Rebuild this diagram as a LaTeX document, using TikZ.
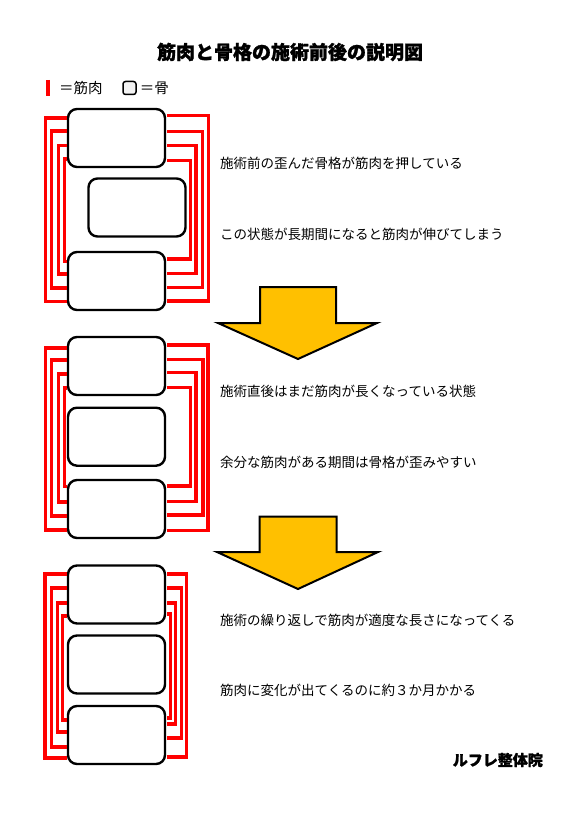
\documentclass[tikz,border=0pt]{standalone}
\usepackage{fontspec}
\newfontfamily\jp{Noto Sans CJK JP}[BoldFeatures={FakeBold=1.3}]
\usetikzlibrary{calc,positioning}
\definecolor{arrowyellow}{HTML}{FFC000}
\definecolor{legendgrey}{HTML}{F2F2F2}
\tikzset{
    bone/.style={draw,rectangle,rounded corners=9pt,line width=2.4pt,fill=white,
        minimum width=97pt,minimum height=58pt,inner sep=0pt},
    muscle/.style={red,line width=3.3pt,shorten >=1.2pt,shorten <=1.2pt},
    note/.style={anchor=west,inner sep=0pt,font=\jp\fontsize{13.5}{16}\selectfont},
    downarrow/.style={draw,line width=2pt,fill=arrowyellow,line join=miter}
}

\begin{document}
\begin{tikzpicture}[x=1pt,y=-1pt]
        \useasboundingbox (0,0) rectangle (579,818);
        % title and legend
        \node (title) at (290,52) {\jp\bfseries\fontsize{19}{22}\selectfont 筋肉と骨格の施術前後の説明図};
        \draw[red,line width=3.3pt] (48,80) -- (48,96);
        \node[note,font=\jp\fontsize{14.5}{17}\selectfont] (key_muscle) at (59,88) {＝筋肉};
        \node[draw,rounded corners=2.5pt,line width=1.5pt,fill=legendgrey,
            minimum size=13pt,inner sep=0pt] (key_box) at (129.5,88) {};
        \node[note,font=\jp\fontsize{14.5}{17}\selectfont] (key_bone) [right=3pt of key_box.east,anchor=west] {＝骨};

        % before treatment
        \node[bone] (a1) at (116.5,138)   {};
        \node[bone] (a2) at (137,207.5)   {};
        \node[bone] (a3) at (116.5,281)   {};
        \foreach \lx/\lt/\lb/\rx/\rt/\rb in {45.7/118/301.5/208.3/115.7/301,
                51.7/131/288/202.3/131.7/287.7, 58.3/145.7/274/196/145.7/273.3,
                64.3/159/261.7/190.3/160.7/259}
            \draw[muscle] (a1.west |- 0,\lt) -| (\lx,\lb) -- (a3.west |- 0,\lb)
                          (a1.east |- 0,\rt) -| (\rx,\rb) -- (a3.east |- 0,\rb);
        \node[note] (n1) at (220,163) {施術前の歪んだ骨格が筋肉を押している};
        \node[note] (n2) at (220,234) {この状態が長期間になると筋肉が伸びてしまう};

        \draw[downarrow] (260,287) -- (336,287) -- (336,323) -- (377,323)
            -- (298,359) -- (218,323) -- (260,323) -- cycle;

        % right after treatment
        \node[bone] (b1) at (116.5,366)   {};
        \node[bone] (b2) at (116.5,436.7) {};
        \node[bone] (b3) at (116.5,509)   {};
        \foreach \lx/\lt/\lb/\rx/\rt/\rb in {45.7/348/530/208/345/530.7,
                51.7/360/516/203/359.3/515, 58.3/374/502/196/372.7/501.7,
                64.3/388/486.7/190.7/387.3/486}
            \draw[muscle] (b1.west |- 0,\lt) -| (\lx,\lb) -- (b3.west |- 0,\lb)
                          (b1.east |- 0,\rt) -| (\rx,\rb) -- (b3.east |- 0,\rb);
        \node[note] (n3) at (220,391) {施術直後はまだ筋肉が長くなっている状態};
        \node[note] (n4) at (220,462) {余分な筋肉がある期間は骨格が歪みやすい};

        \draw[downarrow] (259.5,516.5) -- (336.5,516.5) -- (336.5,552) -- (378,552)
            -- (298,589) -- (217,552) -- (259.5,552) -- cycle;

        % after repeated treatment
        \node[bone] (c1) at (116.5,594.5) {};
        \node[bone] (c2) at (116.5,664.5) {};
        \node[bone] (c3) at (116.5,735)   {};
        \foreach \lx/\lt/\lb/\rx/\rt/\rb in {45/574/758/186.7/574/757,
                51.7/588/747/181.7/588/738, 57.3/603/732/175.7/603/724,
                62.3/616/720/170.7/614/718}
            \draw[muscle] (c1.west |- 0,\lt) -| (\lx,\lb) -- (c3.west |- 0,\lb)
                          (c1.east |- 0,\rt) -| (\rx,\rb) -- (c3.east |- 0,\rb);
        \node[note] (n5) at (220,620) {施術の繰り返しで筋肉が適度な長さになってくる};
        \node[note] (n6) at (220,690) {筋肉に変化が出てくるのに約３か月かかる};

        \node[anchor=east,inner sep=0pt] (clinic) at (543,760)
            {\jp\bfseries\fontsize{15}{18}\selectfont ルフレ整体院};
\end{tikzpicture}
\end{document}
